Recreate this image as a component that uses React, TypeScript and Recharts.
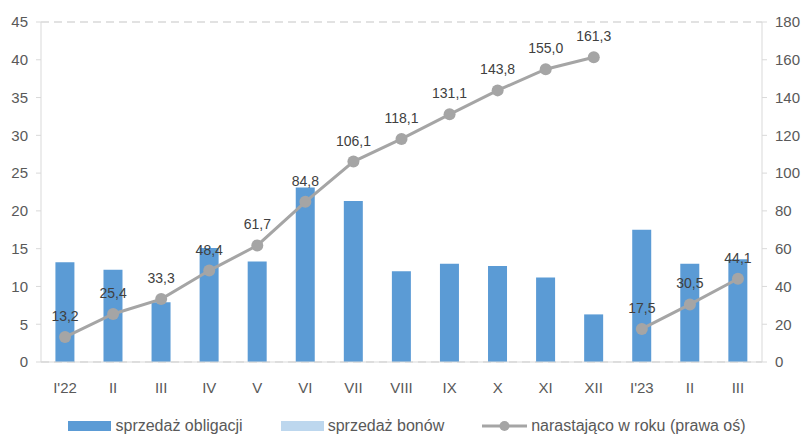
import {
  ComposedChart,
  Bar,
  Line,
  XAxis,
  YAxis,
  CartesianGrid,
  Legend,
  LabelList,
} from "recharts";

const months = ["I'22", "II", "III", "IV", "V", "VI", "VII", "VIII", "IX", "X", "XI", "XII", "I'23", "II", "III"];
const obligacje = [13.2, 12.2, 7.9, 15.1, 13.3, 23.1, 21.3, 12.0, 13.0, 12.7, 11.2, 6.3, 17.5, 13.0, 13.6];
const bony = [0, 0, 0, 0, 0, 0, 0, 0, 0, 0, 0, 0, 0, 0, 0];
const narast22 = [13.2, 25.4, 33.3, 48.4, 61.7, 84.8, 106.1, 118.1, 131.1, 143.8, 155.0, 161.3, null, null, null];
const narast23 = [null, null, null, null, null, null, null, null, null, null, null, null, 17.5, 30.5, 44.1];
const leftTicks = [0, 5, 10, 15, 20, 25, 30, 35, 40, 45];
const rightTicks = [0, 20, 40, 60, 80, 100, 120, 140, 160, 180];
const legendOrder = ["sprzedaż obligacji", "sprzedaż bonów", "narastająco w roku (prawa oś)"];

const data = months.map((m, i) => ({
  m,
  obligacje: obligacje[i],
  bony: bony[i],
  n22: narast22[i],
  n23: narast23[i],
}));

const FONT = "'Liberation Sans', Arial, sans-serif";
const TXT = "#595959";
const AX = "#d9d9d9";
const BLUE = "#5b9bd5";
const LIGHT = "#bdd7ee";
const GRAY = "#a5a5a5";

const fmt = (v: any) => (v == null ? "" : Number(v).toFixed(1).replace(".", ","));

function LegendContent(props: any) {
  const items = (props.payload || [])
    .filter((p: any) => p.type !== "none")
    .sort((a: any, b: any) => legendOrder.indexOf(a.value) - legendOrder.indexOf(b.value));
  return (
    <div style={{ display: "flex", justifyContent: "center", gap: 38, fontFamily: FONT, fontSize: 16, color: TXT, marginLeft: 12, paddingTop: 9 }}>
      {items.map((p: any) => (
        <div key={p.value} style={{ display: "flex", alignItems: "center", gap: 4 }}>
          {p.type === "line" ? (
            <svg width={45} height={12}>
              <line x1={0} y1={6} x2={45} y2={6} stroke={GRAY} strokeWidth={3} />
              <circle cx={22.5} cy={6} r={5} fill={GRAY} />
            </svg>
          ) : (
            <svg width={43} height={12}>
              <rect x={0} y={1} width={43} height={10} fill={p.color} />
            </svg>
          )}
          <span>{p.value}</span>
        </div>
      ))}
    </div>
  );
}

export default function App() {
  return (
    <div style={{ position: "absolute", left: 0, top: 0, background: "#fff" }}>
      <ComposedChart
        width={802}
        height={435}
        data={data}
        margin={{ top: 22, right: 0, bottom: 2, left: 0 }}
        barCategoryGap="30%"
      >
        <CartesianGrid vertical={false} stroke={AX} strokeDasharray="8 5" strokeWidth={1.5} />
        <XAxis
          dataKey="m"
          stroke={AX}
          tickLine={false}
          tick={{ fill: TXT, fontSize: 15, fontFamily: FONT }}
          tickMargin={14}
          height={46}
          interval={0}
        />
        <YAxis
          yAxisId="left"
          domain={[0, 45]}
          ticks={leftTicks}
          stroke={AX}
          tickSize={5}
          tick={{ fill: TXT, fontSize: 15, fontFamily: FONT }}
          tickMargin={8}
          width={41}
        />
        <YAxis
          yAxisId="right"
          orientation="right"
          domain={[0, 180]}
          ticks={rightTicks}
          stroke={AX}
          tickSize={5}
          tick={{ fill: TXT, fontSize: 15, fontFamily: FONT, textAnchor: "start" }}
          tickMargin={8}
          width={40}
        />
        <Legend verticalAlign="bottom" height={25} content={<LegendContent />} />
        <Bar yAxisId="left" dataKey="obligacje" name="sprzedaż obligacji" stackId="a" fill={BLUE} isAnimationActive={false} />
        <Bar yAxisId="left" dataKey="bony" name="sprzedaż bonów" stackId="a" fill={LIGHT} isAnimationActive={false} />
        <Line
          yAxisId="right"
          dataKey="n22"
          name="narastająco w roku (prawa oś)"
          stroke={GRAY}
          strokeWidth={3}
          dot={{ r: 6, fill: GRAY, stroke: GRAY, strokeWidth: 0 }}
          legendType="line"
          isAnimationActive={false}
        >
          <LabelList dataKey="n22" position="top" offset={16} formatter={fmt} fill="#404040" fontSize={14} fontFamily={FONT} />
        </Line>
        <Line
          yAxisId="right"
          dataKey="n23"
          name="narastająco 2023"
          stroke={GRAY}
          strokeWidth={3}
          dot={{ r: 6, fill: GRAY, stroke: GRAY, strokeWidth: 0 }}
          legendType="none"
          isAnimationActive={false}
        >
          <LabelList dataKey="n23" position="top" offset={16} formatter={fmt} fill="#404040" fontSize={14} fontFamily={FONT} />
        </Line>
      </ComposedChart>
    </div>
  );
}
